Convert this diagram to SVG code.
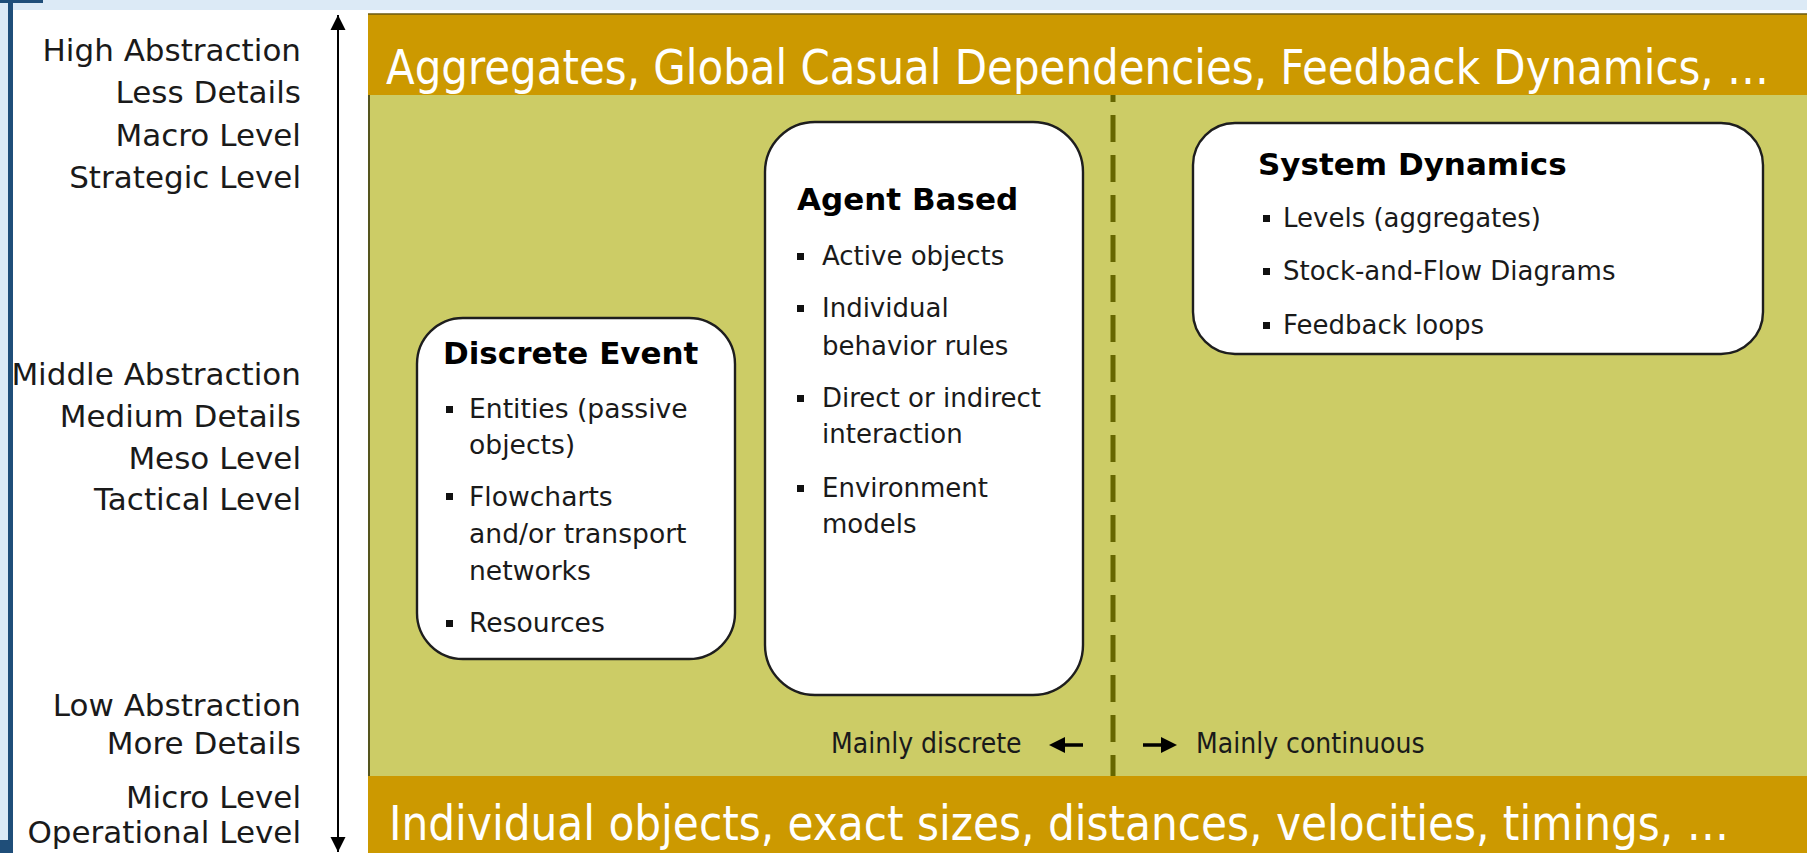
<svg xmlns="http://www.w3.org/2000/svg" width="1807" height="853" viewBox="0 0 1807 853">
  <defs>
    <style>
      .lbl { font-family: "DejaVu Sans", Verdana, sans-serif; font-size: 31px; fill: #1a1a1a; text-anchor: end; }
      .bar { font-family: "DejaVu Sans Condensed", "DejaVu Sans", sans-serif; font-size: 48px; fill: #ffffff; }
      .title { font-family: "DejaVu Sans", Verdana, sans-serif; font-weight: bold; font-size: 31px; fill: #000000; }
      .item { font-family: "DejaVu Sans", Verdana, sans-serif; font-size: 26px; fill: #1a1a1a; }
      .item2 { font-family: "DejaVu Sans", Verdana, sans-serif; font-size: 26.6px; fill: #1a1a1a; }
      .note { font-family: "DejaVu Sans Condensed", "DejaVu Sans", sans-serif; font-size: 28px; fill: #1a1a1a; }
      .box { fill: #ffffff; stroke: #1e1e1e; stroke-width: 2.4; }
      .bul { fill: #111111; }
    </style>
    <marker id="ah" viewBox="0 0 10 10" refX="10" refY="5" markerWidth="15" markerHeight="16" markerUnits="userSpaceOnUse" orient="auto-start-reverse">
      <path d="M0,0 L10,5 L0,10 z" fill="#000"/>
    </marker>
  </defs>

  <!-- background & frame -->
  <rect x="0" y="0" width="1807" height="853" fill="#ffffff"/>
  <rect x="0" y="0" width="1807" height="10" fill="#dceaf6"/>
  <rect x="0" y="0" width="9" height="842" fill="#dceaf6"/>
  <rect x="0" y="0" width="43" height="3" fill="#1f4e79"/>
  <rect x="8" y="0" width="5" height="842" fill="#1f4e79"/>
  <rect x="0" y="840" width="13" height="13" fill="#1f4e79"/>

  <!-- main panel -->
  <g id="panel">
    <rect x="368" y="95" width="1439" height="681" fill="#cccc66"/>
    <rect x="368" y="14" width="1439" height="81" fill="#cc9900"/>
    <rect x="368" y="776" width="1439" height="77" fill="#cc9900"/>
    <line x1="368" y1="14" x2="1807" y2="14" stroke="#6b5a10" stroke-width="1.5"/>
    <line x1="369" y1="95" x2="369" y2="776" stroke="#55551e" stroke-width="2"/>
    <text class="bar" x="386" y="84" textLength="1383" lengthAdjust="spacingAndGlyphs">Aggregates, Global Casual Dependencies, Feedback Dynamics, …</text>
    <text class="bar" x="389" y="840" textLength="1340" lengthAdjust="spacingAndGlyphs">Individual objects, exact sizes, distances, velocities, timings, …</text>
  </g>

  <!-- left scale labels -->
  <g id="scale-labels">
    <text class="lbl" x="301" y="61">High Abstraction</text>
    <text class="lbl" x="301" y="103">Less Details</text>
    <text class="lbl" x="301" y="146">Macro Level</text>
    <text class="lbl" x="301" y="188">Strategic Level</text>
    <text class="lbl" x="301" y="385">Middle Abstraction</text>
    <text class="lbl" x="301" y="427">Medium Details</text>
    <text class="lbl" x="301" y="469">Meso Level</text>
    <text class="lbl" x="301" y="510">Tactical Level</text>
    <text class="lbl" x="301" y="716">Low Abstraction</text>
    <text class="lbl" x="301" y="754">More Details</text>
    <text class="lbl" x="301" y="808">Micro Level</text>
    <text class="lbl" x="301" y="843">Operational Level</text>
  </g>

  <!-- connectors -->
  <g id="connectors">
    <line x1="338" y1="15" x2="338" y2="852" stroke="#000" stroke-width="2" marker-start="url(#ah)" marker-end="url(#ah)"/>
    <line x1="1113" y1="95" x2="1113" y2="776" stroke="#666600" stroke-width="5" stroke-dasharray="27 13" stroke-dashoffset="20"/>
    <path d="M1083,745 L1062,745" stroke="#000" stroke-width="3.5"/>
    <path d="M1049,745 L1065,737 L1065,753 z" fill="#000"/>
    <path d="M1143,745 L1164,745" stroke="#000" stroke-width="3.5"/>
    <path d="M1177,745 L1161,737 L1161,753 z" fill="#000"/>
  </g>

  <g id="discrete-label">
    <text class="note" x="831" y="753">Mainly discrete</text>
  </g>
  <g id="continuous-label">
    <text class="note" x="1196" y="753">Mainly continuous</text>
  </g>

  <!-- Discrete Event -->
  <g id="discrete-event">
    <rect class="box" x="417" y="318" width="318" height="341" rx="46" ry="46"/>
    <text class="title" x="443" y="364">Discrete Event</text>
    <rect class="bul" x="446" y="406" width="7" height="7"/>
    <text class="item2" x="469" y="418">Entities (passive</text>
    <text class="item2" x="469" y="454">objects)</text>
    <rect class="bul" x="446" y="493" width="7" height="7"/>
    <text class="item2" x="469" y="506">Flowcharts</text>
    <text class="item2" x="469" y="543">and/or transport</text>
    <text class="item2" x="469" y="580">networks</text>
    <rect class="bul" x="446" y="620" width="7" height="7"/>
    <text class="item2" x="469" y="632">Resources</text>
  </g>

  <!-- Agent Based -->
  <g id="agent-based">
    <rect class="box" x="765" y="122" width="318" height="573" rx="50" ry="50"/>
    <text class="title" x="797" y="210">Agent Based</text>
    <rect class="bul" x="797" y="253" width="7" height="7"/>
    <text class="item" x="822" y="265">Active objects</text>
    <rect class="bul" x="797" y="305" width="7" height="7"/>
    <text class="item" x="822" y="317">Individual</text>
    <text class="item" x="822" y="355">behavior rules</text>
    <rect class="bul" x="797" y="395" width="7" height="7"/>
    <text class="item" x="822" y="407">Direct or indirect</text>
    <text class="item" x="822" y="443">interaction</text>
    <rect class="bul" x="797" y="485" width="7" height="7"/>
    <text class="item" x="822" y="497">Environment</text>
    <text class="item" x="822" y="533">models</text>
  </g>

  <!-- System Dynamics -->
  <g id="system-dynamics">
    <rect class="box" x="1193" y="123" width="570" height="231" rx="42" ry="42"/>
    <text class="title" x="1258" y="175">System Dynamics</text>
    <rect class="bul" x="1263" y="215" width="7" height="7"/>
    <text class="item" x="1283" y="227">Levels (aggregates)</text>
    <rect class="bul" x="1263" y="268" width="7" height="7"/>
    <text class="item" x="1283" y="280">Stock-and-Flow Diagrams</text>
    <rect class="bul" x="1263" y="322" width="7" height="7"/>
    <text class="item" x="1283" y="334">Feedback loops</text>
  </g>
</svg>
